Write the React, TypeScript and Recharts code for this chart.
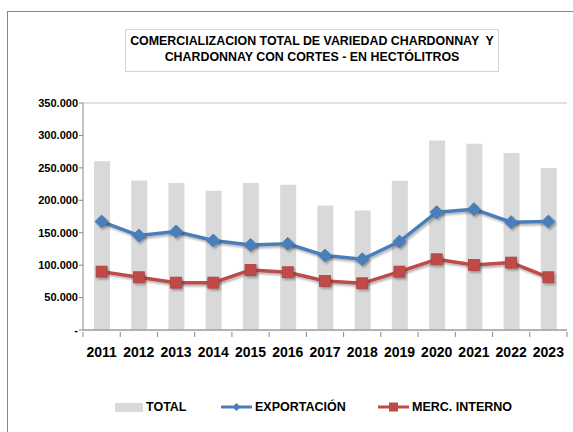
import React from "react";
import {
  ComposedChart,
  Bar,
  Line,
  XAxis,
  YAxis,
  CartesianGrid,
} from "recharts";

const years = ["2011", "2012", "2013", "2014", "2015", "2016", "2017", "2018", "2019", "2020", "2021", "2022", "2023"];
const total = [260000, 230500, 226500, 214600, 226500, 223900, 191900, 184200, 230000, 292300, 287200, 272800, 249600];
const exportacion = [167200, 145600, 151800, 137900, 131200, 132800, 114700, 109100, 136300, 181700, 186300, 166300, 167200];
const mercInterno = [90000, 81300, 73000, 73000, 92600, 89000, 75600, 72000, 90000, 109000, 100300, 103900, 81300];
const yTicks = [0, 50000, 100000, 150000, 200000, 250000, 300000, 350000];
const titleLines = ["COMERCIALIZACION TOTAL DE VARIEDAD CHARDONNAY  Y", "CHARDONNAY CON CORTES - EN HECTÓLITROS"];

const data = years.map((year, i) => ({
  year,
  TOTAL: total[i],
  EXPORTACIÓN: exportacion[i],
  "MERC. INTERNO": mercInterno[i],
}));

const FONT = "'Liberation Sans', Arial, sans-serif";
const BLUE = "#4a7ebb";
const RED = "#be4b48";
const BAR = "#d9d9d9";
const AXIS = "#868686";
const PLOT_W = 573 - 83 - 6;
const BAND = PLOT_W / years.length;

const fmt = (v: number) => (v === 0 ? "-" : String(v).replace(/\B(?=(\d{3})+(?!\d))/g, "."));

function YearTick({ x, y, payload, index }: any) {
  return (
    <g>
      <line x1={x - BAND / 2} x2={x - BAND / 2} y1={y} y2={y + 5} stroke={AXIS} />
      {index === years.length - 1 && (
        <line x1={x + BAND / 2} x2={x + BAND / 2} y1={y} y2={y + 5} stroke={AXIS} />
      )}
      <text x={x} y={y + 25} textAnchor="middle" fontSize={14} fontWeight={700} fontFamily={FONT} fill="#000">
        {payload.value}
      </text>
    </g>
  );
}

function Diamond({ cx, cy }: any) {
  if (cx == null || cy == null) return null;
  const r = 6.5;
  return (
    <path
      d={`M${cx},${cy - r}L${cx + r},${cy}L${cx},${cy + r}L${cx - r},${cy}Z`}
      fill={BLUE}
      stroke={BLUE}
      filter="url(#shadow)"
    />
  );
}

function Square({ cx, cy }: any) {
  if (cx == null || cy == null) return null;
  const r = 5.5;
  return (
    <rect x={cx - r} y={cy - r} width={r * 2} height={r * 2} fill={RED} stroke="#b0403d" strokeWidth={0.8} filter="url(#shadow)" />
  );
}

function ChartLegend() {
  const item: React.CSSProperties = { display: "flex", alignItems: "center", position: "absolute", top: 400 };
  const label: React.CSSProperties = { fontFamily: FONT, fontWeight: 700, fontSize: 12.5, color: "#000", marginLeft: 3 };
  return (
    <>
      <div style={{ ...item, left: 115 }}>
        <div style={{ width: 28, height: 9, background: BAR }} />
        <span style={label}>TOTAL</span>
      </div>
      <div style={{ ...item, left: 221 }}>
        <svg width={31} height={14}>
          <line x1={0} x2={31} y1={7} y2={7} stroke={BLUE} strokeWidth={3} />
          <path d="M15.5,3L19.5,7L15.5,11L11.5,7Z" fill={BLUE} />
        </svg>
        <span style={label}>EXPORTACIÓN</span>
      </div>
      <div style={{ ...item, left: 378 }}>
        <svg width={31} height={14}>
          <line x1={0} x2={31} y1={7} y2={7} stroke={RED} strokeWidth={3} />
          <rect x={11} y={2.5} width={9} height={9} fill={RED} />
        </svg>
        <span style={label}>MERC. INTERNO</span>
      </div>
    </>
  );
}

export default function App() {
  return (
    <div style={{ position: "absolute", left: 0, top: 0, width: 573, height: 432, overflow: "hidden", background: "#fff" }}>
      <div style={{ position: "absolute", left: 7, top: 11, width: 620, height: 480, border: `1px solid ${AXIS}` }} />
      <div
        style={{
          position: "absolute",
          left: 125,
          top: 29,
          width: 374,
          height: 43,
          border: "1px solid #d4d4d4",
          paddingTop: 4,
          boxSizing: "border-box",
          textAlign: "center",
          fontFamily: FONT,
          fontWeight: 700,
          fontSize: 12.4,
          lineHeight: "15.5px",
          color: "#000",
          whiteSpace: "pre",
        }}
      >
        <div>{titleLines[0]}</div>
        <div>{titleLines[1]}</div>
      </div>
      <div style={{ position: "absolute", left: 0, top: 0 }}>
        <ComposedChart width={573} height={432} data={data} margin={{ top: 103, right: 6, left: 0, bottom: 72 }} barCategoryGap={0}>
          <defs>
            <filter id="shadow" x="-20%" y="-20%" width="140%" height="160%">
              <feDropShadow dx={1.5} dy={2} stdDeviation={1.2} floodColor="#000" floodOpacity={0.3} />
            </filter>
          </defs>
          <CartesianGrid vertical={false} stroke="#c4c4c4" />
          <XAxis
            dataKey="year"
            interval={0}
            height={30}
            tickLine={false}
            tickSize={0}
            tick={<YearTick />}
            stroke={AXIS}
          />
          <YAxis
            yAxisId="left"
            width={83}
            domain={[0, 350000]}
            ticks={yTicks}
            tickFormatter={fmt}
            tickSize={4}
            tickMargin={1}
            stroke={AXIS}
            tick={{ fontSize: 11, fontWeight: 700, fill: "#000", fontFamily: FONT }}
          />
          <YAxis yAxisId="right" orientation="right" width={0} tick={false} tickLine={false} stroke={AXIS} domain={[0, 350000]} />
          <Bar yAxisId="left" dataKey="TOTAL" fill={BAR} barSize={16} isAnimationActive={false} />
          <Line
            yAxisId="left"
            dataKey="EXPORTACIÓN"
            stroke={BLUE}
            strokeWidth={3.5}
            filter="url(#shadow)"
            dot={<Diamond />}
            isAnimationActive={false}
          />
          <Line
            yAxisId="left"
            dataKey="MERC. INTERNO"
            stroke={RED}
            strokeWidth={3.5}
            filter="url(#shadow)"
            dot={<Square />}
            isAnimationActive={false}
          />
        </ComposedChart>
      </div>
      <ChartLegend />
    </div>
  );
}
